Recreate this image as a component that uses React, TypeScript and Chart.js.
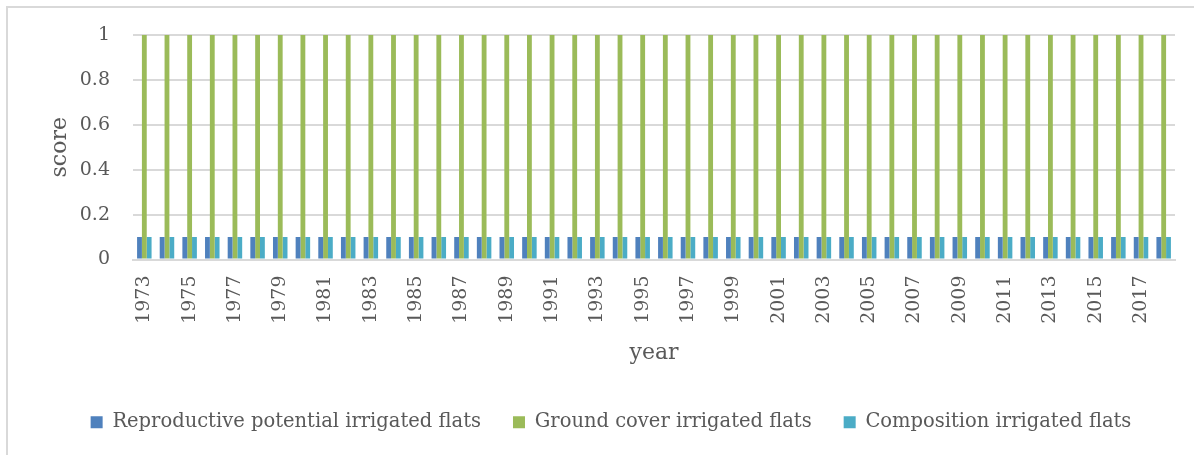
import React, { useEffect, useRef } from "react";
import { Chart, registerables } from "chart.js";

Chart.register(...registerables);

// Survey years shown along the x axis
const years: string[] = [
  "1973", "1974", "1975", "1976", "1977", "1978", "1979", "1980", "1981", "1982",
  "1983", "1984", "1985", "1986", "1987", "1988", "1989", "1990", "1991", "1992",
  "1993", "1994", "1995", "1996", "1997", "1998", "1999", "2000", "2001", "2002",
  "2003", "2004", "2005", "2006", "2007", "2008", "2009", "2010", "2011", "2012",
  "2013", "2014", "2015", "2016", "2017", "2018",
];

// Scores per year for each indicator
const reproductivePotential: number[] = years.map(() => 0.1);
const groundCover: number[] = years.map(() => 1);
const composition: number[] = years.map(() => 0.1);

const seriesNames: string[] = [
  "Reproductive potential irrigated flats",
  "Ground cover irrigated flats",
  "Composition irrigated flats",
];
const seriesColors: string[] = ["#4F81BD", "#9BBB59", "#4BACC6"];

const yMin = 0;
const yMax = 1;
const yStep = 0.2;

const FONT = "'DejaVu Serif', serif";
const TEXT = "#595959";
const GRID = "#d9d9d9";

const W = 1194;
const H = 455;

export default function App() {
  const canvasRef = useRef<HTMLCanvasElement | null>(null);

  useEffect(() => {
    if (!canvasRef.current) return;
    const chart = new Chart(canvasRef.current, {
      type: "bar",
      data: {
        labels: years,
        datasets: [reproductivePotential, groundCover, composition].map((values, i) => ({
          label: seriesNames[i],
          data: values,
          backgroundColor: seriesColors[i],
          borderWidth: 0,
          categoryPercentage: 0.64,
          barPercentage: 1,
        })),
      },
      options: {
        responsive: false,
        animation: false,
        layout: { padding: { left: 47, right: 19, top: 35, bottom: 13 } },
        plugins: {
          tooltip: { enabled: false },
          legend: {
            position: "bottom",
            labels: {
              color: TEXT,
              font: { family: FONT, size: 19.5 },
              boxWidth: 12,
              boxHeight: 12,
              padding: 32,
            },
          },
        },
        scales: {
          x: {
            grid: { display: false, drawTicks: false },
            border: { display: true, color: GRID, width: 2 },
            ticks: {
              color: TEXT,
              font: { family: FONT, size: 19 },
              autoSkip: false,
              minRotation: 90,
              maxRotation: 90,
              padding: 16,
              callback: (_v, i) => (i % 2 === 0 ? years[i] : ""),
            },
            title: {
              display: true,
              text: "year",
              color: TEXT,
              font: { family: FONT, size: 22 },
              padding: { top: 0, bottom: 14 },
            },
            afterFit: (scale) => {
              scale.height = 121;
              scale.paddingLeft = 0;
              scale.paddingRight = 0;
            },
          },
          y: {
            min: yMin,
            max: yMax,
            grid: { color: GRID, lineWidth: 2, drawTicks: false },
            border: { display: false },
            ticks: {
              stepSize: yStep,
              color: TEXT,
              font: { family: FONT, size: 19 },
              padding: 23,
              callback: (v) => String(Math.round(Number(v) * 10) / 10),
            },
            title: {
              display: true,
              text: "score",
              color: TEXT,
              font: { family: FONT, size: 22 },
              padding: { top: 0, bottom: 0 },
            },
            afterFit: (scale) => {
              scale.width = 86;
            },
          },
        },
      },
    });
    return () => chart.destroy();
  }, []);

  return (
    <div style={{ position: "fixed", inset: 0, overflow: "hidden", background: "#fff" }}>
      <div
        style={{
          position: "absolute",
          left: 6,
          top: 6,
          width: 1400,
          height: 700,
          borderTop: `2px solid ${GRID}`,
          borderLeft: `2px solid ${GRID}`,
        }}
      />
      <canvas
        ref={canvasRef}
        width={W}
        height={H}
        style={{ position: "absolute", left: 0, top: 0, width: W, height: H }}
      />
    </div>
  );
}
